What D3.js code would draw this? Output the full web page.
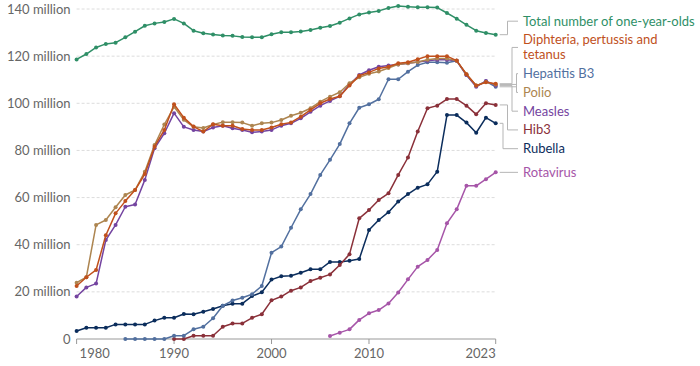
<!DOCTYPE html>
<html>
<head>
<meta charset="utf-8">
<script src="https://cdn.jsdelivr.net/npm/d3@7"></script>
<style>
  body { margin: 0; background: #fff; }
  text { font-family: Lato, "Noto Sans", sans-serif; }
</style>
</head>
<body>
<div id="chart"></div>
<script>
/* Values, millions of one-year-olds */
var totalOneYearOlds = [118.6, 120.9, 123.7, 125.2, 125.7, 128.0, 130.4, 132.9, 133.9, 134.5,
    135.8, 133.9, 130.8, 129.7, 129.2, 128.8, 128.6, 128.1, 128.0, 128.0,
    129.3, 130.1, 130.1, 130.5, 131.1, 132.0, 132.8, 134.2, 136.0, 137.7,
    138.5, 139.2, 140.4, 141.3, 141.0, 140.7, 140.7, 140.6, 138.3, 135.9,
    133.3, 130.8, 129.8, 129.1];
var dtp = [22.5, 26.2, 29.3, 44.0, 53.3, 58.5, 63.2, 70.0, 81.6, 88.7,
    99.6, 93.9, 90.1, 88.0, 91.1, 90.5, 90.5, 89.1, 88.7, 88.7,
    89.7, 91.1, 91.9, 94.3, 97.2, 100.0, 101.8, 103.0, 107.5, 111.7,
    113.1, 114.8, 115.5, 117.0, 117.4, 118.7, 120.0, 120.0, 120.0, 118.1,
    112.3, 107.5, 108.9, 108.3];
var hepB3 = [0, 0, 0, 0, 0,
    1.4, 1.4, 4.1, 5.2, 8.8, 14.1, 16.3, 17.5, 19.0, 22.5,
    36.6, 39.2, 47.2, 55.0, 61.5, 69.6, 76.0, 82.7, 91.5, 98.1,
    99.6, 101.7, 110.2, 110.2, 113.4, 116.2, 117.4, 117.4, 117.2, 118.0,
    112.0, 107.3, 109.3, 107.0];
var polio = [23.9, 26.2, 48.4, 50.5, 55.9, 61.1, 63.2, 71.0, 82.3, 91.0,
    98.5, 93.0, 90.0, 89.5, 91.0, 92.0, 92.0, 91.8, 90.5, 91.5,
    91.8, 92.9, 94.7, 96.0, 97.9, 100.7, 102.8, 104.7, 108.5, 111.0,
    112.5, 113.5, 115.0, 116.5, 117.0, 117.5, 118.5, 119.0, 119.0, 118.0,
    112.3, 107.5, 109.0, 108.0];
var measles = [18.0, 21.9, 23.5, 42.0, 48.4, 56.1, 57.1, 67.5, 80.9, 87.3,
    95.8, 90.0, 88.7, 88.0, 89.7, 90.5, 89.4, 88.7, 87.7, 88.0,
    88.7, 90.5, 91.5, 93.6, 96.4, 99.0, 101.0, 103.0, 108.0, 112.0,
    114.0, 115.5, 116.0, 116.5, 117.0, 117.5, 118.0, 118.5, 118.5, 118.0,
    112.0, 107.0, 109.5, 107.5];
var hib3 = [0, 0, 1.4, 1.4, 1.4, 5.2, 6.6, 6.6, 9.0, 10.5,
    16.4, 18.0, 20.5, 21.9, 24.6, 26.0, 27.4, 31.4, 36.0, 51.2,
    54.7, 59.0, 61.8, 69.6, 77.0, 88.0, 97.9, 99.0, 101.8, 101.8,
    99.0, 95.3, 100.0, 99.3];
var rubella = [3.4, 4.8, 4.8, 4.8, 6.2, 6.2, 6.2, 6.2, 7.8, 9.0,
    9.0, 10.6, 10.5, 11.6, 12.7, 14.1, 15.0, 15.0, 18.2, 19.8,
    25.2, 26.6, 26.8, 28.1, 29.6, 29.6, 32.7, 32.7, 33.2, 33.9,
    46.2, 50.5, 53.8, 58.3, 61.5, 64.2, 65.6, 71.0, 95.0, 95.0,
    91.8, 87.5, 93.9, 91.5];
var rotavirus = [1.3, 2.7, 4.1, 8.1, 10.9, 12.3, 15.1, 19.7, 25.3,
    30.7, 33.5, 37.8, 49.1, 55.0, 65.0, 65.0, 67.8, 70.7];

/* Series names, first year of each series and colours (legend order) */
var seriesNames = ["Total number of one-year-olds", "Diphteria, pertussis and tetanus", "Hepatitis B3",
                   "Polio", "Measles", "Hib3", "Rubella", "Rotavirus"];
var seriesValues = [totalOneYearOlds, dtp, hepB3, polio, measles, hib3, rubella, rotavirus];
var seriesStart = [1980, 1980, 1985, 1980, 1980, 1990, 1980, 2006];
var seriesColors = ["#2f8f67", "#c0501c", "#52709f", "#ad8550", "#7444a0", "#8a3039", "#0b2d5c", "#a655a8"];
/* drawing order, last on top */
var drawOrder = [7, 6, 5, 2, 4, 3, 1, 0];

var xTicks = [1980, 1990, 2000, 2010, 2023];
var yTicks = [0, 20, 40, 60, 80, 100, 120, 140];

/* Dimensions */
var width = 700, height = 366;
var margin = {top: 9, left: 76.6, right: 204.3, bottom: 27};
var labelX = 523;

var svg = d3.select("#chart").append("svg")
    .attr("width", width).attr("height", height);

var x = d3.scaleLinear()
    .domain([1980, 2023])
    .range([margin.left, width - margin.right]);

var y = d3.scaleLinear()
    .domain([0, 140])
    .range([height - margin.bottom, margin.top]);

/* Grid lines and y labels */
var grid = svg.append("g").attr("class", "grid");
grid.selectAll("line")
    .data(yTicks.filter(function(d) { return d > 0; }))
    .enter().append("line")
    .attr("x1", x.range()[0]).attr("x2", x.range()[1])
    .attr("y1", y).attr("y2", y)
    .attr("stroke", "#dcdcdc")
    .attr("stroke-dasharray", "3,2");

grid.selectAll("text")
    .data(yTicks)
    .enter().append("text")
    .attr("x", x.range()[0] - 6)
    .attr("y", y)
    .attr("dy", "0.35em")
    .attr("text-anchor", "end")
    .attr("fill", "#666")
    .style("font-size", "13px")
    .text(function(d) { return d === 0 ? "0" : d + " million"; });

/* X axis */
var xAxis = svg.append("g")
    .attr("transform", "translate(0," + y(0) + ")");

xAxis.append("line")
    .attr("x1", x.range()[0]).attr("x2", x.range()[1])
    .attr("stroke", "#999");

xAxis.selectAll(".tick")
    .data(xTicks)
    .enter().append("line")
    .attr("class", "tick")
    .attr("x1", x).attr("x2", x)
    .attr("y1", 0).attr("y2", 5)
    .attr("stroke", "#999");

xAxis.selectAll("text")
    .data(xTicks)
    .enter().append("text")
    .attr("x", function(d, i) { return i === 0 ? x(d) + 3 : x(d); })
    .attr("y", 19)
    .attr("text-anchor", function(d, i) {
        if (i === 0) return "start";
        if (i === xTicks.length - 1) return "end";
        return "middle";
    })
    .attr("fill", "#666")
    .style("font-size", "13px")
    .text(function(d) { return d; });

/* Lines */
var series = seriesNames.map(function(name, i) {
    return {
        name: name,
        color: seriesColors[i],
        points: seriesValues[i].map(function(v, j) { return {year: seriesStart[i] + j, value: v}; })
    };
});

var line = d3.line()
    .x(function(d) { return x(d.year); })
    .y(function(d) { return y(d.value); });

var lines = svg.append("g").attr("class", "lines");
drawOrder.forEach(function(i) {
    var s = series[i];
    var g = lines.append("g");
    g.append("path")
        .datum(s.points)
        .attr("d", line)
        .attr("fill", "none")
        .attr("stroke", s.color)
        .attr("stroke-width", 1.5)
        .attr("stroke-linejoin", "round");
    g.selectAll("circle")
        .data(s.points)
        .enter().append("circle")
        .attr("cx", function(d) { return x(d.year); })
        .attr("cy", function(d) { return y(d.value); })
        .attr("r", 2)
        .attr("fill", s.color);
});

/* End labels */
var lineH = 15, labelPad = 3.75, maxLabelW = 178;
var labels = svg.append("g").attr("class", "labels");

var nodes = series.map(function(s) {
    var t = labels.append("text")
        .attr("x", labelX)
        .attr("fill", s.color)
        .style("font-size", "13px");
    // wrap long names
    var words = s.name.split(" "), rows = [], cur = "";
    words.forEach(function(w) {
        var test = cur ? cur + " " + w : w;
        t.text(test);
        if (t.node().getComputedTextLength() > maxLabelW && cur) {
            rows.push(cur);
            cur = w;
        } else {
            cur = test;
        }
    });
    rows.push(cur);
    t.text(null);
    var last = s.points[s.points.length - 1];
    return {el: t, rows: rows, target: y(last.value), h: rows.length * lineH + labelPad};
});

/* push overlapping labels apart, keeping groups centred on their targets */
var groups = nodes.map(function(n) { return {members: [n]}; });
function placeGroup(g) {
    var off = 0, sum = 0;
    g.members.forEach(function(m) {
        sum += m.target - (off + m.h / 2);
        off += m.h;
    });
    g.h = off;
    g.top = sum / g.members.length;
}
groups.forEach(placeGroup);
var merged = true;
while (merged) {
    merged = false;
    for (var i = 1; i < groups.length; i++) {
        if (groups[i - 1].top + groups[i - 1].h > groups[i].top) {
            groups[i - 1].members = groups[i - 1].members.concat(groups[i].members);
            placeGroup(groups[i - 1]);
            groups.splice(i, 1);
            merged = true;
            break;
        }
    }
}
groups.forEach(function(g) {
    // stacked groups sit a little lower in the original
    var off = g.top + (g.members.length > 1 ? 3 : 0);
    g.members.forEach(function(m) {
        m.center = off + m.h / 2;
        off += m.h;
    });
});

nodes.forEach(function(n) {
    n.rows.forEach(function(r, k) {
        n.el.append("tspan")
            .attr("x", labelX)
            .attr("y", n.center + (k - (n.rows.length - 1) / 2) * lineH)
            .attr("dy", "0.35em")
            .text(r);
    });
});

/* connectors with elbows that do not cross */
var up = nodes.filter(function(n) { return n.center < n.target - 1; });
var down = nodes.filter(function(n) { return n.center > n.target + 1; });
var xLineEnd = x(2023) + 4, elbowBase = 503, elbowStep = 4.5;
up.forEach(function(n, k) { n.elbow = elbowBase + elbowStep * (k + 1); });
down.forEach(function(n, k) { n.elbow = elbowBase + elbowStep * (down.length - 1 - k); });

labels.selectAll("path")
    .data(nodes)
    .enter().append("path")
    .attr("fill", "none")
    .attr("stroke", "#b5b5b5")
    .attr("stroke-width", 1)
    .attr("d", function(n) {
        if (n.elbow === undefined) {
            return "M" + xLineEnd + "," + n.target + "H" + (labelX - 5);
        }
        return "M" + xLineEnd + "," + n.target + "H" + n.elbow +
               "V" + n.center + "H" + (labelX - 5);
    });
</script>
</body>
</html>
